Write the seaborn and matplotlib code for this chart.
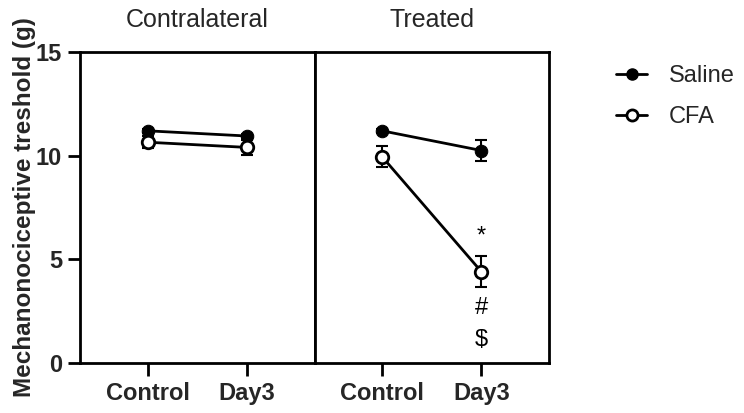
import numpy as np
import pandas as pd
import matplotlib.pyplot as plt
import seaborn as sns
from matplotlib.lines import Line2D

# Dados
timepoints = ['Control', 'Day3']
panels = ['Contralateral', 'Treated']
saline_mean = {'Contralateral': [11.2, 10.95], 'Treated': [11.2, 10.25]}
saline_sem = {'Contralateral': [0.1, 0.1], 'Treated': [0.1, 0.5]}
cfa_mean = {'Contralateral': [10.65, 10.4], 'Treated': [9.95, 4.4]}
cfa_sem = {'Contralateral': [0.3, 0.35], 'Treated': [0.5, 0.75]}
signif_labels = ['*', '#', '$']
signif_y = [6.1, 2.65, 1.1]

sns.set_theme(style='white')
plt.rcParams['font.family'] = ['Liberation Sans', 'DejaVu Sans']

fig = plt.figure(figsize=(7.44, 4.13), dpi=100)
gs = fig.add_gridspec(1, 2, left=0.1075, right=0.738, bottom=0.121, top=0.874, wspace=0)
axes = [fig.add_subplot(gs[0, 0]), fig.add_subplot(gs[0, 1])]

for ax, panel in zip(axes, panels):
    rows = []
    for i, t in enumerate(timepoints):
        rows.append({'pos': i, 'grupo': 'Saline', 'valor': saline_mean[panel][i], 'sem': saline_sem[panel][i]})
        rows.append({'pos': i, 'grupo': 'CFA', 'valor': cfa_mean[panel][i], 'sem': cfa_sem[panel][i]})
    df = pd.DataFrame(rows)

    for g in ['Saline', 'CFA']:
        d = df[df['grupo'] == g]
        ax.errorbar(d['pos'], d['valor'], yerr=d['sem'], fmt='none', ecolor='black',
                    elinewidth=1.5, capsize=4, capthick=1.5, zorder=2)
    sns.lineplot(data=df, x='pos', y='valor', hue='grupo', style='grupo',
                 palette={'Saline': 'black', 'CFA': 'black'},
                 markers={'Saline': 'o', 'CFA': 'o'}, dashes=False,
                 linewidth=2, markersize=9, ax=ax, legend=False, zorder=3)
    # marcador aberto para CFA
    lines = [l for l in ax.get_lines() if len(l.get_xdata()) == 2]
    for l in lines:
        yd = np.asarray(l.get_ydata())
        if np.allclose(yd, cfa_mean[panel]):
            l.set_markerfacecolor('white')
            l.set_markeredgecolor('black')
            l.set_markeredgewidth(2)
        else:
            l.set_markerfacecolor('black')
            l.set_markeredgecolor('black')

    ax.set_xlim(-0.68, 1.68)
    ax.set_ylim(0, 15)
    ax.set_xticks([0, 1])
    ax.set_xticklabels(timepoints, fontweight='bold', fontsize=17)
    ax.set_xlabel('')
    ax.set_ylabel('')
    ax.set_title(panel, fontsize=18, pad=18)
    for s in ax.spines.values():
        s.set_linewidth(2)
        s.set_color('black')
    ax.tick_params(axis='x', direction='out', length=9, width=2, bottom=True, color='black', pad=5)

axes[0].set_yticks([0, 5, 10, 15])
axes[0].set_yticklabels(['0', '5', '10', '15'], fontweight='bold', fontsize=17)
axes[0].tick_params(axis='y', direction='out', length=9, width=2, left=True, color='black', pad=4)
axes[0].set_ylabel('Mechanonociceptive treshold (g)', fontweight='bold', fontsize=17.5, labelpad=0)
axes[1].set_yticks([])

for lab, yv in zip(signif_labels, signif_y):
    axes[1].text(1, yv, lab, ha='center', va='center', fontsize=17, color='black')

# Legenda
handles = [Line2D([], [], color='black', lw=2, marker='o', markersize=8, markerfacecolor='black'),
           Line2D([], [], color='black', lw=2, marker='o', markersize=8, markerfacecolor='white', markeredgewidth=2)]
fig.legend(handles, ['Saline', 'CFA'], loc='upper left', bbox_to_anchor=(0.80, 0.893),
           frameon=False, fontsize=17, handlelength=1.3, handletextpad=0.9, labelspacing=0.8)

plt.savefig('out.png', dpi=100)
